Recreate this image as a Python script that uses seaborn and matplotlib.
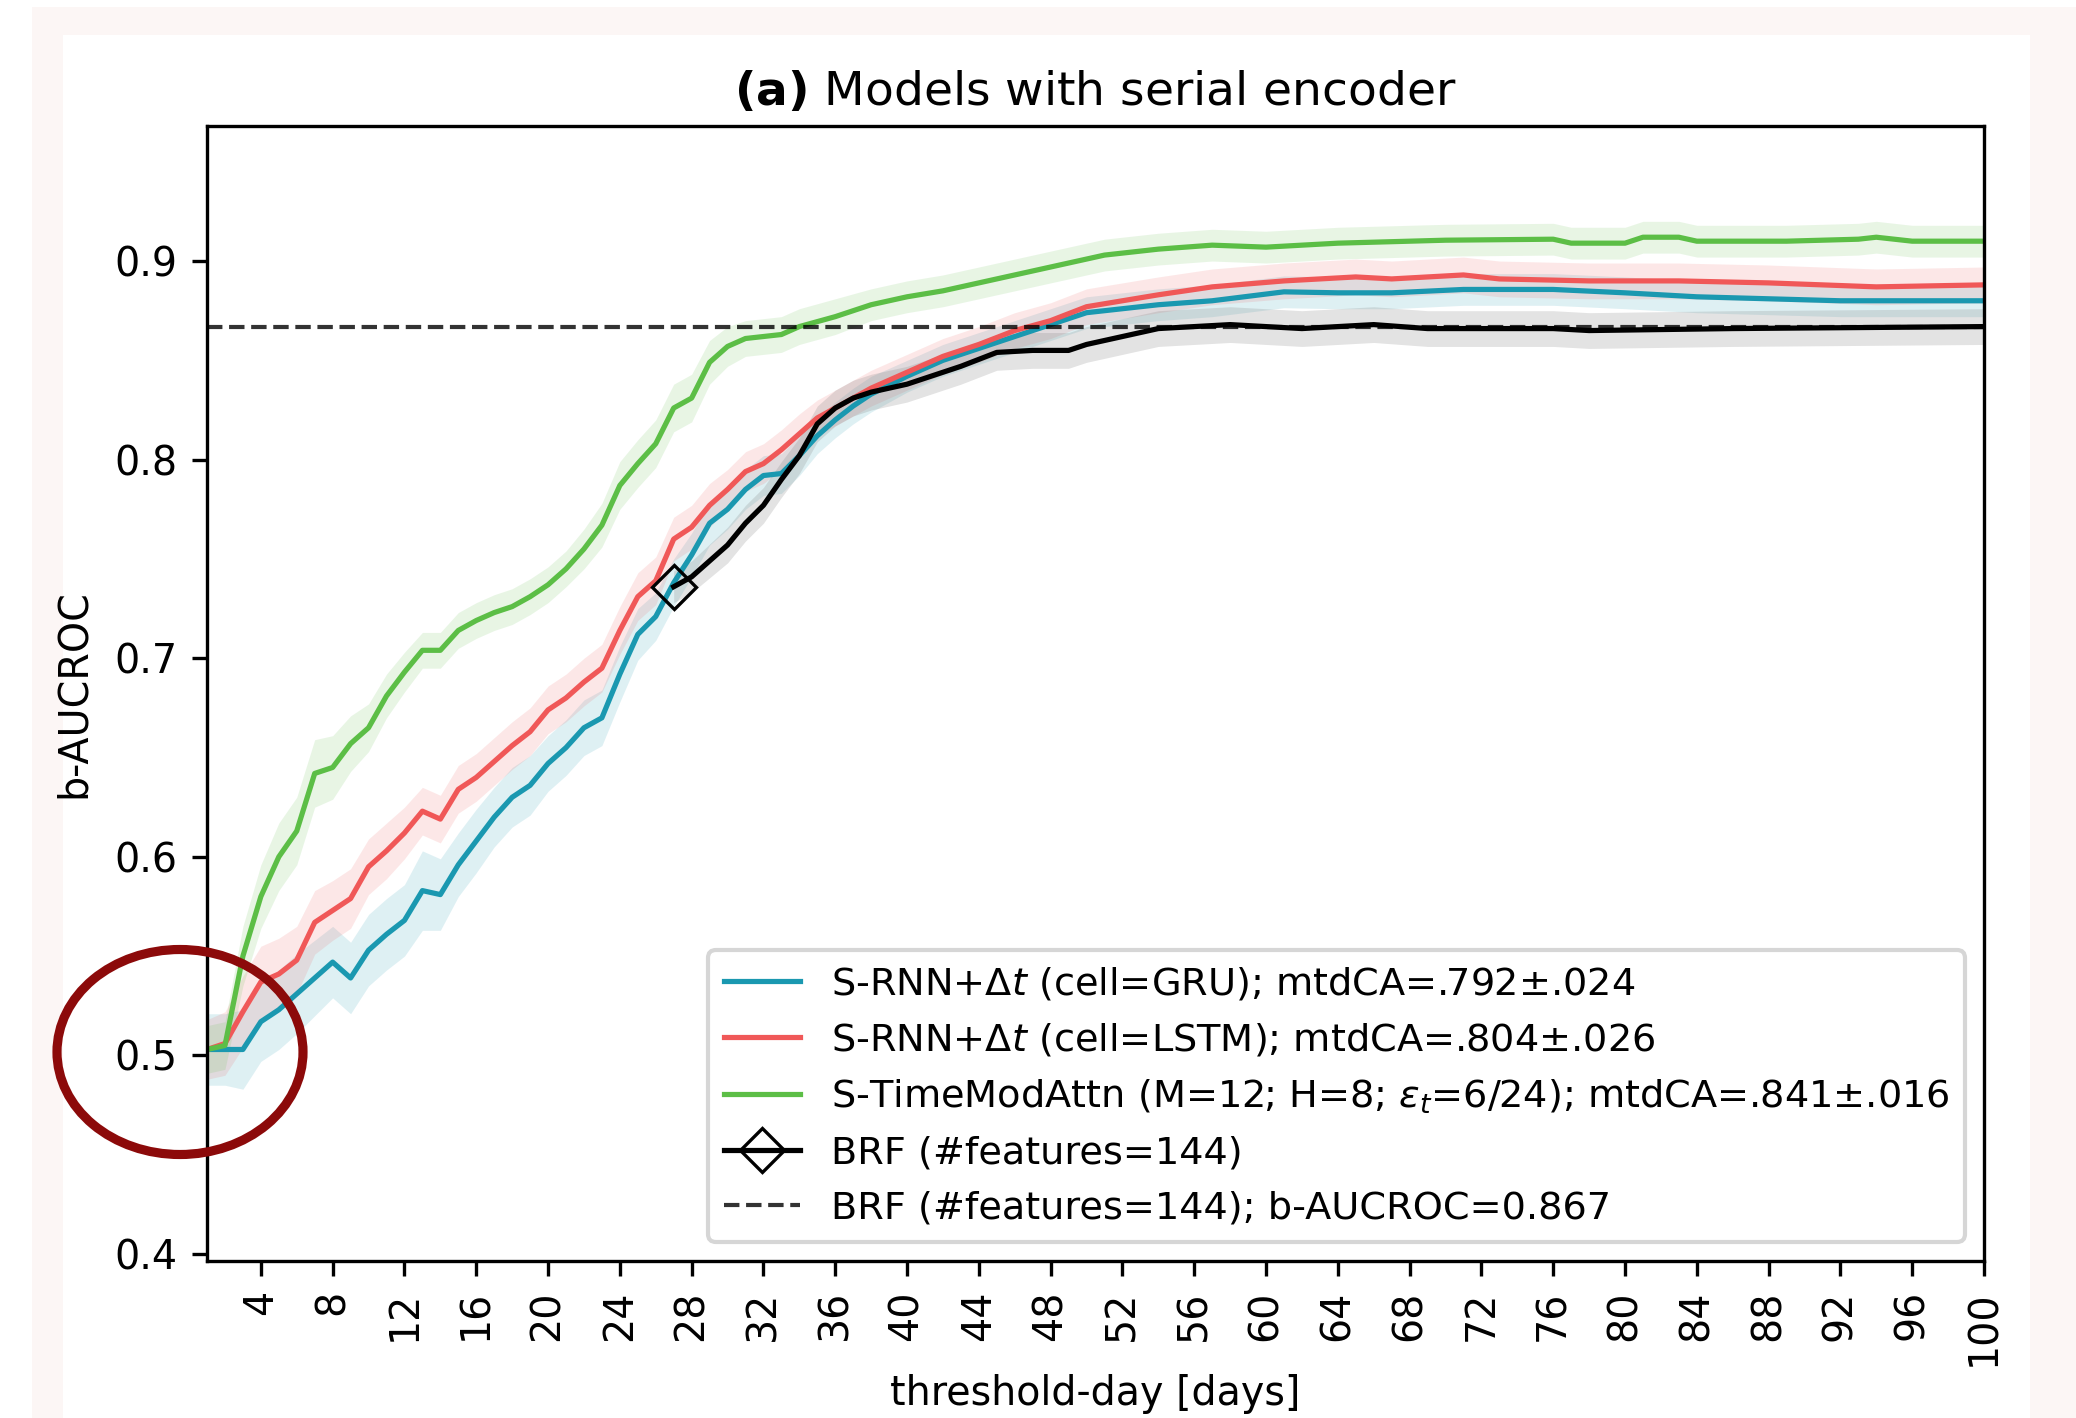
import numpy as np
import pandas as pd
import seaborn as sns
import matplotlib
matplotlib.use("Agg")
import matplotlib.pyplot as plt
from matplotlib.patches import Rectangle, Ellipse

# ---------------- data ----------------
gru_days = [1, 2, 3, 4, 5, 6, 8, 9, 10, 11, 12, 13, 14, 15, 16, 17, 18, 19, 20, 21, 22, 23, 24, 25,
            26, 27, 28, 29, 30, 31, 32, 33, 34, 35, 36, 37, 38, 40, 42, 44, 46, 48, 50, 52, 54, 57,
            61, 64, 67, 71, 76, 80, 84, 88, 92, 96, 100]
gru_vals = [0.503, 0.503, 0.503, 0.517, 0.523, 0.531, 0.547, 0.539, 0.553, 0.561, 0.568, 0.583, 0.581,
            0.596, 0.608, 0.620, 0.630, 0.636, 0.647, 0.655, 0.665, 0.670, 0.692, 0.712,
            0.721, 0.738, 0.752, 0.768, 0.775, 0.785, 0.792, 0.793, 0.802, 0.812, 0.820, 0.827, 0.833,
            0.842, 0.850, 0.856, 0.862, 0.868, 0.874, 0.876, 0.878, 0.880,
            0.8845, 0.884, 0.884, 0.8857, 0.8857, 0.884, 0.882, 0.881, 0.880, 0.880, 0.880]
gru_ci = [0.018, 0.018, 0.020, 0.020, 0.020, 0.020, 0.018, 0.018, 0.018, 0.018, 0.018, 0.020, 0.018,
          0.016, 0.016, 0.015, 0.015, 0.015, 0.014, 0.014, 0.014, 0.014, 0.014, 0.013,
          0.012, 0.012, 0.011, 0.011, 0.010, 0.010, 0.010, 0.010, 0.010, 0.009, 0.009, 0.009, 0.009,
          0.008, 0.008, 0.008, 0.008, 0.008, 0.008, 0.008, 0.008, 0.008,
          0.008, 0.008, 0.008, 0.008, 0.008, 0.008, 0.008, 0.008, 0.008, 0.008, 0.008]

lstm_days = [1, 2, 3, 4, 5, 6, 7, 8, 9, 10, 11, 12, 13, 14, 15, 16, 17, 18, 19, 20, 21, 22, 23, 24,
             25, 26, 27, 28, 29, 30, 31, 32, 33, 34, 35, 36, 38, 40, 42, 44, 46, 48, 50, 52, 54, 57,
             61, 65, 67, 71, 73, 78, 83, 88, 94, 100]
lstm_vals = [0.503, 0.506, 0.522, 0.537, 0.541, 0.548, 0.567, 0.573, 0.579, 0.595, 0.603, 0.612, 0.623,
             0.619, 0.634, 0.640, 0.648, 0.656, 0.663, 0.674, 0.680, 0.688, 0.695, 0.714,
             0.731, 0.739, 0.760, 0.766, 0.777, 0.785, 0.794, 0.798, 0.805, 0.813, 0.821, 0.826,
             0.836, 0.844, 0.852, 0.858, 0.865, 0.870, 0.877, 0.880, 0.883, 0.887,
             0.890, 0.892, 0.891, 0.893, 0.891, 0.890, 0.890, 0.889, 0.887, 0.888]
lstm_ci = [0.015, 0.016, 0.018, 0.018, 0.018, 0.017, 0.016, 0.015, 0.015, 0.014, 0.014, 0.013, 0.012,
           0.012, 0.012, 0.012, 0.012, 0.012, 0.012, 0.012, 0.012, 0.012, 0.012, 0.012,
           0.012, 0.012, 0.011, 0.011, 0.011, 0.010, 0.010, 0.010, 0.010, 0.010, 0.009, 0.009,
           0.009, 0.009, 0.009, 0.009, 0.009, 0.009, 0.009, 0.009, 0.009, 0.009,
           0.009, 0.009, 0.009, 0.009, 0.009, 0.009, 0.009, 0.009, 0.009, 0.009]

attn_days = [1, 2, 3, 4, 5, 6, 7, 8, 9, 10, 11, 12, 13, 14, 15, 16, 17, 18, 19, 20, 21, 22, 23, 24,
             25, 26, 27, 28, 29, 30, 31, 33, 34, 36, 38, 40, 42, 44, 46, 48, 50, 51, 54, 57, 60, 64,
             70, 76, 77, 80, 81, 83, 84, 89, 93, 94, 96, 100]
attn_vals = [0.503, 0.505, 0.550, 0.580, 0.600, 0.613, 0.642, 0.645, 0.657, 0.665, 0.681, 0.693, 0.704,
             0.704, 0.714, 0.719, 0.723, 0.726, 0.731, 0.737, 0.745, 0.755, 0.767, 0.787,
             0.798, 0.808, 0.826, 0.831, 0.849, 0.857, 0.861, 0.863, 0.867, 0.872, 0.878, 0.882,
             0.885, 0.889, 0.893, 0.897, 0.901, 0.903, 0.906, 0.908, 0.907, 0.909,
             0.9105, 0.911, 0.909, 0.909, 0.912, 0.912, 0.910, 0.910, 0.911, 0.912, 0.910, 0.910]
attn_ci = [0.012, 0.012, 0.015, 0.016, 0.017, 0.017, 0.017, 0.016, 0.014, 0.012, 0.011, 0.010, 0.009,
           0.009, 0.009, 0.009, 0.009, 0.009, 0.009, 0.009, 0.009, 0.010, 0.011, 0.012,
           0.012, 0.012, 0.012, 0.012, 0.011, 0.010, 0.009, 0.009, 0.009, 0.009, 0.008, 0.008,
           0.008, 0.008, 0.008, 0.008, 0.008, 0.008, 0.008, 0.008, 0.008, 0.008,
           0.008, 0.008, 0.008, 0.008, 0.008, 0.008, 0.008, 0.008, 0.008, 0.008, 0.008, 0.008]

brf_days = [27, 28, 30, 31, 32, 33, 34, 35, 36, 37, 38, 40, 41, 43, 45, 47, 49, 50, 52, 54, 58, 62,
            66, 69, 76, 78, 86, 100]
brf_vals = [0.736, 0.741, 0.757, 0.768, 0.777, 0.790, 0.802, 0.818, 0.826, 0.831, 0.834, 0.838, 0.841,
            0.847, 0.854, 0.855, 0.855, 0.858, 0.862, 0.866, 0.868, 0.866,
            0.868, 0.866, 0.866, 0.865, 0.866, 0.867]
brf_ci = [0.008, 0.008, 0.009, 0.009, 0.009, 0.009, 0.009, 0.009, 0.009, 0.009, 0.009, 0.009, 0.009,
          0.009, 0.009, 0.009, 0.009, 0.009, 0.009, 0.009, 0.009, 0.009,
          0.009, 0.009, 0.009, 0.009, 0.009, 0.009]

brf_static = 0.867

labels = [r"S-RNN+$\Delta t$ (cell=GRU); mtdCA=.792±.024",
          r"S-RNN+$\Delta t$ (cell=LSTM); mtdCA=.804±.026",
          r"S-TimeModAttn (M=12; H=8; $\varepsilon_t$=6/24); mtdCA=.841±.016",
          "BRF (#features=144)",
          "BRF (#features=144); b-AUCROC=0.867"]
xticks = list(range(4, 101, 4))
yticks = [0.4, 0.5, 0.6, 0.7, 0.8, 0.9]

# ---------------- figure ----------------
plt.rcParams["font.size"] = 9.5
W, H = 2076, 1418
DPI = 300
fig = plt.figure(figsize=(W / DPI, H / DPI), dpi=DPI)
fig.patch.set_facecolor("white")
# screenshot framing
fig.add_artist(Rectangle((32 / W, 0), (W - 32) / W, (H - 7) / H, transform=fig.transFigure,
                         facecolor="#fcf6f5", edgecolor="none", zorder=-20))
fig.add_artist(Rectangle((63 / W, 0), (2030 - 63) / W, (H - 35) / H, transform=fig.transFigure,
                         facecolor="white", edgecolor="none", zorder=-19))

ax = fig.add_axes([207 / W, 1 - 1261 / H, (1984 - 207) / W, (1261 - 126) / H])
ax.set_facecolor("white")

c_gru = "#1a98b0"
c_lstm = "#f05858"
c_attn = "#5cbe46"

series = [
    (gru_days, gru_vals, gru_ci, c_gru, labels[0]),
    (lstm_days, lstm_vals, lstm_ci, c_lstm, labels[1]),
    (attn_days, attn_vals, attn_ci, c_attn, labels[2]),
]
handles = []
for d, v, ci, c, lab in series:
    df = pd.DataFrame({"day": d, "val": v, "ci": ci})
    ax.fill_between(df["day"], df["val"] - df["ci"], df["val"] + df["ci"],
                    color=c, alpha=0.14, linewidth=0)
    sns.lineplot(data=df, x="day", y="val", ax=ax, color=c, linewidth=1.25, label=lab)
    handles.append(ax.lines[-1])

dfb = pd.DataFrame({"day": brf_days, "val": brf_vals, "ci": brf_ci})
ax.fill_between(dfb["day"], dfb["val"] - dfb["ci"], dfb["val"] + dfb["ci"],
                color="gray", alpha=0.22, linewidth=0)
sns.lineplot(data=dfb, x="day", y="val", ax=ax, color="black", linewidth=1.25,
             marker="D", markevery=[0], markersize=7.3, markerfacecolor="none",
             markeredgecolor="black", markeredgewidth=0.8, label=labels[3])
handles.append(ax.lines[-1])
hl = ax.axhline(brf_static, color="black", alpha=0.8, linestyle="--", linewidth=1.0,
                label=labels[4])
handles.append(hl)

ax.set_xlim(1, 100)
ax.set_ylim(0.3965, 0.968)
ax.set_xticks(xticks)
ax.set_xticklabels([str(t) for t in xticks], rotation=90)
ax.set_yticks(yticks)
ax.set_yticklabels([f"{t:.1f}" for t in yticks])
ax.set_xlabel("threshold-day [days]", labelpad=2)
ax.set_ylabel("b-AUCROC", labelpad=5)
ax.set_title(r"$\bf{(a)}$ Models with serial encoder", fontsize=11.3, pad=5)
for s in ax.spines.values():
    s.set_visible(True)
    s.set_color("black")
ax.legend(handles=handles, labels=labels, loc="lower right", fontsize=9.2)

# red annotation circle
fig.add_artist(Ellipse((180 / W, 1 - 1052 / H), 246 / W, 205 / H, transform=fig.transFigure,
                       fill=False, edgecolor="#8c0a0a", linewidth=2.2, zorder=100))

fig.savefig("out.png", dpi=DPI)
